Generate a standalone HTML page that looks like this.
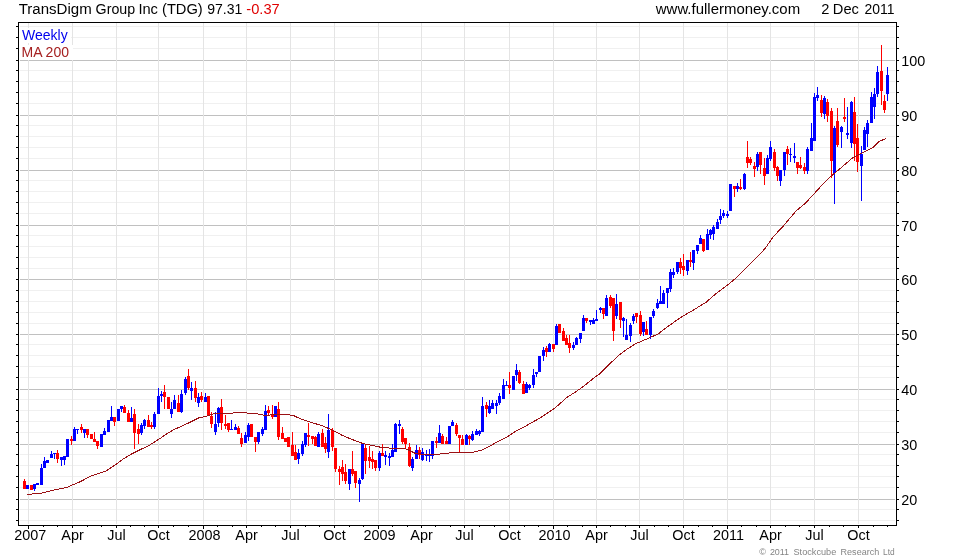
<!DOCTYPE html>
<html lang="en"><head><meta charset="utf-8"><title>TransDigm Group Inc (TDG) weekly chart</title>
<style>html,body{margin:0;padding:0;background:#fff}body{width:980px;height:560px;overflow:hidden}svg{display:block}text{font-family:"Liberation Sans",Arial,Helvetica,sans-serif}</style>
</head><body>
<svg width="980" height="560" viewBox="0 0 980 560">
<rect width="980" height="560" fill="#fff"/>
<g shape-rendering="crispEdges">
<rect x="20" y="520" width="875" height="1" fill="#f0f0f0"/>
<rect x="20" y="509" width="875" height="1" fill="#f0f0f0"/>
<rect x="20" y="487" width="875" height="1" fill="#f0f0f0"/>
<rect x="20" y="476" width="875" height="1" fill="#f0f0f0"/>
<rect x="20" y="465" width="875" height="1" fill="#f0f0f0"/>
<rect x="20" y="454" width="875" height="1" fill="#f0f0f0"/>
<rect x="20" y="432" width="875" height="1" fill="#f0f0f0"/>
<rect x="20" y="421" width="875" height="1" fill="#f0f0f0"/>
<rect x="20" y="410" width="875" height="1" fill="#f0f0f0"/>
<rect x="20" y="399" width="875" height="1" fill="#f0f0f0"/>
<rect x="20" y="377" width="875" height="1" fill="#f0f0f0"/>
<rect x="20" y="366" width="875" height="1" fill="#f0f0f0"/>
<rect x="20" y="355" width="875" height="1" fill="#f0f0f0"/>
<rect x="20" y="344" width="875" height="1" fill="#f0f0f0"/>
<rect x="20" y="323" width="875" height="1" fill="#f0f0f0"/>
<rect x="20" y="312" width="875" height="1" fill="#f0f0f0"/>
<rect x="20" y="301" width="875" height="1" fill="#f0f0f0"/>
<rect x="20" y="290" width="875" height="1" fill="#f0f0f0"/>
<rect x="20" y="268" width="875" height="1" fill="#f0f0f0"/>
<rect x="20" y="257" width="875" height="1" fill="#f0f0f0"/>
<rect x="20" y="246" width="875" height="1" fill="#f0f0f0"/>
<rect x="20" y="235" width="875" height="1" fill="#f0f0f0"/>
<rect x="20" y="213" width="875" height="1" fill="#f0f0f0"/>
<rect x="20" y="202" width="875" height="1" fill="#f0f0f0"/>
<rect x="20" y="191" width="875" height="1" fill="#f0f0f0"/>
<rect x="20" y="180" width="875" height="1" fill="#f0f0f0"/>
<rect x="20" y="158" width="875" height="1" fill="#f0f0f0"/>
<rect x="20" y="147" width="875" height="1" fill="#f0f0f0"/>
<rect x="20" y="136" width="875" height="1" fill="#f0f0f0"/>
<rect x="20" y="125" width="875" height="1" fill="#f0f0f0"/>
<rect x="20" y="103" width="875" height="1" fill="#f0f0f0"/>
<rect x="20" y="92" width="875" height="1" fill="#f0f0f0"/>
<rect x="20" y="81" width="875" height="1" fill="#f0f0f0"/>
<rect x="20" y="70" width="875" height="1" fill="#f0f0f0"/>
<rect x="20" y="48" width="875" height="1" fill="#f0f0f0"/>
<rect x="20" y="37" width="875" height="1" fill="#f0f0f0"/>
<rect x="20" y="26" width="875" height="1" fill="#f0f0f0"/>
<rect x="20" y="499" width="875" height="1" fill="#c0c0c0"/>
<rect x="20" y="444" width="875" height="1" fill="#c0c0c0"/>
<rect x="20" y="389" width="875" height="1" fill="#c0c0c0"/>
<rect x="20" y="334" width="875" height="1" fill="#c0c0c0"/>
<rect x="20" y="279" width="875" height="1" fill="#c0c0c0"/>
<rect x="20" y="225" width="875" height="1" fill="#c0c0c0"/>
<rect x="20" y="170" width="875" height="1" fill="#c0c0c0"/>
<rect x="20" y="115" width="875" height="1" fill="#c0c0c0"/>
<rect x="20" y="60" width="875" height="1" fill="#c0c0c0"/>
<rect x="28" y="23" width="1" height="501" fill="#e4e4e4"/>
<rect x="72" y="23" width="1" height="501" fill="#e4e4e4"/>
<rect x="116" y="23" width="1" height="501" fill="#e4e4e4"/>
<rect x="158" y="23" width="1" height="501" fill="#e4e4e4"/>
<rect x="203" y="23" width="1" height="501" fill="#e4e4e4"/>
<rect x="246" y="23" width="1" height="501" fill="#e4e4e4"/>
<rect x="290" y="23" width="1" height="501" fill="#e4e4e4"/>
<rect x="334" y="23" width="1" height="501" fill="#e4e4e4"/>
<rect x="378" y="23" width="1" height="501" fill="#e4e4e4"/>
<rect x="421" y="23" width="1" height="501" fill="#e4e4e4"/>
<rect x="464" y="23" width="1" height="501" fill="#e4e4e4"/>
<rect x="509" y="23" width="1" height="501" fill="#e4e4e4"/>
<rect x="553" y="23" width="1" height="501" fill="#e4e4e4"/>
<rect x="596" y="23" width="1" height="501" fill="#e4e4e4"/>
<rect x="639" y="23" width="1" height="501" fill="#e4e4e4"/>
<rect x="683" y="23" width="1" height="501" fill="#e4e4e4"/>
<rect x="727" y="23" width="1" height="501" fill="#e4e4e4"/>
<rect x="770" y="23" width="1" height="501" fill="#e4e4e4"/>
<rect x="814" y="23" width="1" height="501" fill="#e4e4e4"/>
<rect x="858" y="23" width="1" height="501" fill="#e4e4e4"/>
<rect x="20" y="28" width="51" height="15" fill="#fff"/><rect x="20" y="45" width="53" height="15" fill="#fff"/>
</g>
<g shape-rendering="crispEdges">
<rect x="24" y="479" width="1" height="10" fill="#ff0000"/><rect x="23" y="481" width="3" height="8" fill="#ff0000"/>
<rect x="27" y="485" width="1" height="4" fill="#0000ff"/><rect x="26" y="485" width="3" height="4" fill="#0000ff"/>
<rect x="31" y="485" width="1" height="5" fill="#ff0000"/><rect x="30" y="485" width="3" height="5" fill="#ff0000"/>
<rect x="34" y="484" width="1" height="7" fill="#0000ff"/><rect x="33" y="484" width="3" height="5" fill="#0000ff"/>
<rect x="37" y="483" width="1" height="2" fill="#0000ff"/><rect x="36" y="483" width="3" height="2" fill="#0000ff"/>
<rect x="41" y="464" width="1" height="21" fill="#0000ff"/><rect x="40" y="468" width="3" height="17" fill="#0000ff"/>
<rect x="44" y="457" width="1" height="11" fill="#0000ff"/><rect x="43" y="461" width="3" height="7" fill="#0000ff"/>
<rect x="47" y="460" width="1" height="3" fill="#0000ff"/><rect x="46" y="460" width="3" height="3" fill="#0000ff"/>
<rect x="51" y="451" width="1" height="7" fill="#0000ff"/><rect x="50" y="454" width="3" height="4" fill="#0000ff"/>
<rect x="54" y="453" width="1" height="6" fill="#0000ff"/><rect x="53" y="453" width="3" height="1" fill="#0000ff"/>
<rect x="57" y="450" width="1" height="13" fill="#ff0000"/><rect x="56" y="453" width="3" height="6" fill="#ff0000"/>
<rect x="61" y="457" width="1" height="9" fill="#0000ff"/><rect x="60" y="457" width="3" height="3" fill="#0000ff"/>
<rect x="64" y="456" width="1" height="9" fill="#0000ff"/><rect x="63" y="456" width="3" height="4" fill="#0000ff"/>
<rect x="67" y="439" width="1" height="18" fill="#0000ff"/><rect x="66" y="439" width="3" height="18" fill="#0000ff"/>
<rect x="71" y="436" width="1" height="9" fill="#ff0000"/><rect x="70" y="439" width="3" height="2" fill="#ff0000"/>
<rect x="74" y="427" width="1" height="14" fill="#0000ff"/><rect x="73" y="429" width="3" height="12" fill="#0000ff"/>
<rect x="77" y="429" width="1" height="5" fill="#0000ff"/><rect x="76" y="429" width="3" height="1" fill="#0000ff"/>
<rect x="81" y="424" width="1" height="9" fill="#ff0000"/><rect x="80" y="427" width="3" height="3" fill="#ff0000"/>
<rect x="84" y="429" width="1" height="9" fill="#0000ff"/><rect x="83" y="429" width="3" height="4" fill="#0000ff"/>
<rect x="87" y="429" width="1" height="9" fill="#ff0000"/><rect x="86" y="429" width="3" height="6" fill="#ff0000"/>
<rect x="91" y="434" width="1" height="5" fill="#ff0000"/><rect x="90" y="434" width="3" height="5" fill="#ff0000"/>
<rect x="94" y="432" width="1" height="10" fill="#ff0000"/><rect x="93" y="439" width="3" height="3" fill="#ff0000"/>
<rect x="97" y="441" width="1" height="8" fill="#ff0000"/><rect x="96" y="441" width="3" height="5" fill="#ff0000"/>
<rect x="101" y="434" width="1" height="13" fill="#0000ff"/><rect x="100" y="434" width="3" height="13" fill="#0000ff"/>
<rect x="104" y="428" width="1" height="7" fill="#0000ff"/><rect x="103" y="431" width="3" height="4" fill="#0000ff"/>
<rect x="108" y="420" width="1" height="12" fill="#0000ff"/><rect x="107" y="420" width="3" height="12" fill="#0000ff"/>
<rect x="111" y="406" width="1" height="15" fill="#0000ff"/><rect x="110" y="417" width="3" height="4" fill="#0000ff"/>
<rect x="114" y="417" width="1" height="9" fill="#ff0000"/><rect x="113" y="417" width="3" height="5" fill="#ff0000"/>
<rect x="118" y="409" width="1" height="12" fill="#0000ff"/><rect x="117" y="409" width="3" height="12" fill="#0000ff"/>
<rect x="121" y="406" width="1" height="6" fill="#0000ff"/><rect x="120" y="406" width="3" height="3" fill="#0000ff"/>
<rect x="124" y="405" width="1" height="8" fill="#ff0000"/><rect x="123" y="407" width="3" height="6" fill="#ff0000"/>
<rect x="128" y="410" width="1" height="12" fill="#ff0000"/><rect x="127" y="413" width="3" height="9" fill="#ff0000"/>
<rect x="131" y="407" width="1" height="15" fill="#0000ff"/><rect x="130" y="418" width="3" height="4" fill="#0000ff"/>
<rect x="134" y="409" width="1" height="40" fill="#ff0000"/><rect x="133" y="414" width="3" height="19" fill="#ff0000"/>
<rect x="138" y="424" width="1" height="20" fill="#ff0000"/><rect x="137" y="429" width="3" height="5" fill="#ff0000"/>
<rect x="141" y="423" width="1" height="12" fill="#0000ff"/><rect x="140" y="425" width="3" height="8" fill="#0000ff"/>
<rect x="144" y="419" width="1" height="10" fill="#0000ff"/><rect x="143" y="420" width="3" height="6" fill="#0000ff"/>
<rect x="148" y="415" width="1" height="12" fill="#ff0000"/><rect x="147" y="420" width="3" height="7" fill="#ff0000"/>
<rect x="151" y="422" width="1" height="7" fill="#ff0000"/><rect x="150" y="425" width="3" height="2" fill="#ff0000"/>
<rect x="154" y="412" width="1" height="17" fill="#0000ff"/><rect x="153" y="414" width="3" height="13" fill="#0000ff"/>
<rect x="158" y="388" width="1" height="26" fill="#0000ff"/><rect x="157" y="396" width="3" height="18" fill="#0000ff"/>
<rect x="161" y="391" width="1" height="11" fill="#0000ff"/><rect x="160" y="394" width="3" height="2" fill="#0000ff"/>
<rect x="164" y="385" width="1" height="24" fill="#ff0000"/><rect x="163" y="392" width="3" height="5" fill="#ff0000"/>
<rect x="168" y="397" width="1" height="12" fill="#ff0000"/><rect x="167" y="397" width="3" height="12" fill="#ff0000"/>
<rect x="171" y="402" width="1" height="16" fill="#0000ff"/><rect x="170" y="409" width="3" height="5" fill="#0000ff"/>
<rect x="174" y="395" width="1" height="14" fill="#0000ff"/><rect x="173" y="400" width="3" height="9" fill="#0000ff"/>
<rect x="178" y="395" width="1" height="17" fill="#ff0000"/><rect x="177" y="403" width="3" height="9" fill="#ff0000"/>
<rect x="181" y="390" width="1" height="23" fill="#0000ff"/><rect x="180" y="394" width="3" height="18" fill="#0000ff"/>
<rect x="185" y="377" width="1" height="18" fill="#0000ff"/><rect x="184" y="379" width="3" height="14" fill="#0000ff"/>
<rect x="188" y="369" width="1" height="21" fill="#ff0000"/><rect x="187" y="376" width="3" height="12" fill="#ff0000"/>
<rect x="191" y="382" width="1" height="18" fill="#0000ff"/><rect x="190" y="388" width="3" height="3" fill="#0000ff"/>
<rect x="195" y="381" width="1" height="21" fill="#ff0000"/><rect x="194" y="388" width="3" height="10" fill="#ff0000"/>
<rect x="198" y="393" width="1" height="14" fill="#0000ff"/><rect x="197" y="397" width="3" height="6" fill="#0000ff"/>
<rect x="201" y="392" width="1" height="10" fill="#ff0000"/><rect x="200" y="396" width="3" height="4" fill="#ff0000"/>
<rect x="205" y="393" width="1" height="9" fill="#0000ff"/><rect x="204" y="397" width="3" height="5" fill="#0000ff"/>
<rect x="208" y="396" width="1" height="19" fill="#ff0000"/><rect x="207" y="396" width="3" height="19" fill="#ff0000"/>
<rect x="211" y="412" width="1" height="16" fill="#ff0000"/><rect x="210" y="416" width="3" height="8" fill="#ff0000"/>
<rect x="215" y="412" width="1" height="23" fill="#0000ff"/><rect x="214" y="424" width="3" height="8" fill="#0000ff"/>
<rect x="218" y="407" width="1" height="20" fill="#0000ff"/><rect x="217" y="408" width="3" height="15" fill="#0000ff"/>
<rect x="221" y="399" width="1" height="31" fill="#ff0000"/><rect x="220" y="407" width="3" height="16" fill="#ff0000"/>
<rect x="225" y="415" width="1" height="14" fill="#ff0000"/><rect x="224" y="424" width="3" height="2" fill="#ff0000"/>
<rect x="228" y="423" width="1" height="9" fill="#ff0000"/><rect x="227" y="423" width="3" height="7" fill="#ff0000"/>
<rect x="231" y="420" width="1" height="10" fill="#0000ff"/><rect x="230" y="429" width="3" height="1" fill="#0000ff"/>
<rect x="235" y="424" width="1" height="6" fill="#0000ff"/><rect x="234" y="427" width="3" height="3" fill="#0000ff"/>
<rect x="238" y="426" width="1" height="8" fill="#ff0000"/><rect x="237" y="428" width="3" height="6" fill="#ff0000"/>
<rect x="241" y="433" width="1" height="14" fill="#ff0000"/><rect x="240" y="438" width="3" height="6" fill="#ff0000"/>
<rect x="245" y="432" width="1" height="11" fill="#0000ff"/><rect x="244" y="435" width="3" height="8" fill="#0000ff"/>
<rect x="248" y="423" width="1" height="18" fill="#0000ff"/><rect x="247" y="425" width="3" height="12" fill="#0000ff"/>
<rect x="251" y="424" width="1" height="13" fill="#ff0000"/><rect x="250" y="424" width="3" height="13" fill="#ff0000"/>
<rect x="255" y="437" width="1" height="15" fill="#ff0000"/><rect x="254" y="437" width="3" height="5" fill="#ff0000"/>
<rect x="258" y="432" width="1" height="12" fill="#0000ff"/><rect x="257" y="432" width="3" height="10" fill="#0000ff"/>
<rect x="262" y="427" width="1" height="9" fill="#0000ff"/><rect x="261" y="429" width="3" height="5" fill="#0000ff"/>
<rect x="265" y="405" width="1" height="25" fill="#0000ff"/><rect x="264" y="411" width="3" height="19" fill="#0000ff"/>
<rect x="268" y="406" width="1" height="10" fill="#ff0000"/><rect x="267" y="410" width="3" height="3" fill="#ff0000"/>
<rect x="272" y="405" width="1" height="14" fill="#ff0000"/><rect x="271" y="414" width="3" height="3" fill="#ff0000"/>
<rect x="275" y="406" width="1" height="11" fill="#0000ff"/><rect x="274" y="406" width="3" height="11" fill="#0000ff"/>
<rect x="278" y="402" width="1" height="38" fill="#ff0000"/><rect x="277" y="409" width="3" height="28" fill="#ff0000"/>
<rect x="282" y="427" width="1" height="12" fill="#ff0000"/><rect x="281" y="433" width="3" height="6" fill="#ff0000"/>
<rect x="285" y="438" width="1" height="4" fill="#ff0000"/><rect x="284" y="438" width="3" height="4" fill="#ff0000"/>
<rect x="288" y="437" width="1" height="10" fill="#ff0000"/><rect x="287" y="437" width="3" height="10" fill="#ff0000"/>
<rect x="292" y="432" width="1" height="24" fill="#ff0000"/><rect x="291" y="445" width="3" height="11" fill="#ff0000"/>
<rect x="295" y="445" width="1" height="15" fill="#ff0000"/><rect x="294" y="452" width="3" height="8" fill="#ff0000"/>
<rect x="298" y="449" width="1" height="15" fill="#0000ff"/><rect x="297" y="453" width="3" height="6" fill="#0000ff"/>
<rect x="302" y="441" width="1" height="15" fill="#0000ff"/><rect x="301" y="444" width="3" height="10" fill="#0000ff"/>
<rect x="305" y="433" width="1" height="14" fill="#0000ff"/><rect x="304" y="433" width="3" height="12" fill="#0000ff"/>
<rect x="308" y="423" width="1" height="23" fill="#ff0000"/><rect x="307" y="435" width="3" height="2" fill="#ff0000"/>
<rect x="312" y="436" width="1" height="8" fill="#ff0000"/><rect x="311" y="436" width="3" height="3" fill="#ff0000"/>
<rect x="315" y="436" width="1" height="10" fill="#ff0000"/><rect x="314" y="437" width="3" height="9" fill="#ff0000"/>
<rect x="318" y="432" width="1" height="15" fill="#0000ff"/><rect x="317" y="434" width="3" height="13" fill="#0000ff"/>
<rect x="322" y="429" width="1" height="18" fill="#ff0000"/><rect x="321" y="433" width="3" height="14" fill="#ff0000"/>
<rect x="325" y="437" width="1" height="16" fill="#ff0000"/><rect x="324" y="443" width="3" height="6" fill="#ff0000"/>
<rect x="328" y="414" width="1" height="44" fill="#0000ff"/><rect x="327" y="430" width="3" height="22" fill="#0000ff"/>
<rect x="332" y="428" width="1" height="23" fill="#ff0000"/><rect x="331" y="430" width="3" height="17" fill="#ff0000"/>
<rect x="335" y="448" width="1" height="24" fill="#ff0000"/><rect x="334" y="448" width="3" height="21" fill="#ff0000"/>
<rect x="339" y="466" width="1" height="19" fill="#ff0000"/><rect x="338" y="469" width="3" height="3" fill="#ff0000"/>
<rect x="342" y="460" width="1" height="21" fill="#ff0000"/><rect x="341" y="467" width="3" height="7" fill="#ff0000"/>
<rect x="345" y="464" width="1" height="20" fill="#ff0000"/><rect x="344" y="472" width="3" height="9" fill="#ff0000"/>
<rect x="349" y="469" width="1" height="21" fill="#0000ff"/><rect x="348" y="469" width="3" height="15" fill="#0000ff"/>
<rect x="352" y="451" width="1" height="25" fill="#ff0000"/><rect x="351" y="469" width="3" height="5" fill="#ff0000"/>
<rect x="355" y="471" width="1" height="17" fill="#ff0000"/><rect x="354" y="471" width="3" height="12" fill="#ff0000"/>
<rect x="359" y="478" width="1" height="24" fill="#0000ff"/><rect x="358" y="480" width="3" height="4" fill="#0000ff"/>
<rect x="362" y="444" width="1" height="36" fill="#0000ff"/><rect x="361" y="444" width="3" height="35" fill="#0000ff"/>
<rect x="365" y="444" width="1" height="30" fill="#ff0000"/><rect x="364" y="448" width="3" height="13" fill="#ff0000"/>
<rect x="369" y="446" width="1" height="22" fill="#ff0000"/><rect x="368" y="457" width="3" height="4" fill="#ff0000"/>
<rect x="372" y="451" width="1" height="18" fill="#ff0000"/><rect x="371" y="459" width="3" height="3" fill="#ff0000"/>
<rect x="375" y="460" width="1" height="11" fill="#ff0000"/><rect x="374" y="460" width="3" height="8" fill="#ff0000"/>
<rect x="379" y="451" width="1" height="20" fill="#0000ff"/><rect x="378" y="453" width="3" height="15" fill="#0000ff"/>
<rect x="382" y="444" width="1" height="12" fill="#ff0000"/><rect x="381" y="453" width="3" height="3" fill="#ff0000"/>
<rect x="385" y="451" width="1" height="14" fill="#0000ff"/><rect x="384" y="455" width="3" height="2" fill="#0000ff"/>
<rect x="389" y="453" width="1" height="13" fill="#0000ff"/><rect x="388" y="456" width="3" height="2" fill="#0000ff"/>
<rect x="392" y="444" width="1" height="13" fill="#0000ff"/><rect x="391" y="450" width="3" height="7" fill="#0000ff"/>
<rect x="395" y="423" width="1" height="29" fill="#0000ff"/><rect x="394" y="424" width="3" height="28" fill="#0000ff"/>
<rect x="399" y="420" width="1" height="14" fill="#0000ff"/><rect x="398" y="424" width="3" height="2" fill="#0000ff"/>
<rect x="402" y="427" width="1" height="17" fill="#ff0000"/><rect x="401" y="429" width="3" height="13" fill="#ff0000"/>
<rect x="405" y="438" width="1" height="11" fill="#ff0000"/><rect x="404" y="438" width="3" height="6" fill="#ff0000"/>
<rect x="409" y="443" width="1" height="24" fill="#ff0000"/><rect x="408" y="447" width="3" height="19" fill="#ff0000"/>
<rect x="412" y="457" width="1" height="14" fill="#0000ff"/><rect x="411" y="459" width="3" height="9" fill="#0000ff"/>
<rect x="416" y="445" width="1" height="14" fill="#0000ff"/><rect x="415" y="450" width="3" height="9" fill="#0000ff"/>
<rect x="419" y="447" width="1" height="12" fill="#ff0000"/><rect x="418" y="450" width="3" height="5" fill="#ff0000"/>
<rect x="422" y="448" width="1" height="13" fill="#0000ff"/><rect x="421" y="452" width="3" height="8" fill="#0000ff"/>
<rect x="426" y="450" width="1" height="11" fill="#0000ff"/><rect x="425" y="454" width="3" height="2" fill="#0000ff"/>
<rect x="429" y="449" width="1" height="13" fill="#0000ff"/><rect x="428" y="454" width="3" height="2" fill="#0000ff"/>
<rect x="432" y="441" width="1" height="18" fill="#0000ff"/><rect x="431" y="441" width="3" height="15" fill="#0000ff"/>
<rect x="436" y="437" width="1" height="11" fill="#ff0000"/><rect x="435" y="441" width="3" height="2" fill="#ff0000"/>
<rect x="439" y="425" width="1" height="18" fill="#0000ff"/><rect x="438" y="433" width="3" height="10" fill="#0000ff"/>
<rect x="442" y="434" width="1" height="10" fill="#ff0000"/><rect x="441" y="436" width="3" height="8" fill="#ff0000"/>
<rect x="446" y="437" width="1" height="7" fill="#ff0000"/><rect x="445" y="441" width="3" height="3" fill="#ff0000"/>
<rect x="449" y="426" width="1" height="18" fill="#0000ff"/><rect x="448" y="426" width="3" height="18" fill="#0000ff"/>
<rect x="452" y="420" width="1" height="6" fill="#0000ff"/><rect x="451" y="422" width="3" height="4" fill="#0000ff"/>
<rect x="456" y="423" width="1" height="13" fill="#ff0000"/><rect x="455" y="425" width="3" height="9" fill="#ff0000"/>
<rect x="459" y="435" width="1" height="17" fill="#ff0000"/><rect x="458" y="435" width="3" height="3" fill="#ff0000"/>
<rect x="462" y="435" width="1" height="10" fill="#ff0000"/><rect x="461" y="439" width="3" height="6" fill="#ff0000"/>
<rect x="466" y="434" width="1" height="11" fill="#0000ff"/><rect x="465" y="435" width="3" height="10" fill="#0000ff"/>
<rect x="469" y="435" width="1" height="10" fill="#ff0000"/><rect x="468" y="436" width="3" height="3" fill="#ff0000"/>
<rect x="472" y="431" width="1" height="10" fill="#0000ff"/><rect x="471" y="434" width="3" height="6" fill="#0000ff"/>
<rect x="476" y="429" width="1" height="6" fill="#0000ff"/><rect x="475" y="431" width="3" height="4" fill="#0000ff"/>
<rect x="479" y="430" width="1" height="6" fill="#0000ff"/><rect x="478" y="431" width="3" height="3" fill="#0000ff"/>
<rect x="482" y="397" width="1" height="35" fill="#0000ff"/><rect x="481" y="406" width="3" height="26" fill="#0000ff"/>
<rect x="486" y="402" width="1" height="15" fill="#ff0000"/><rect x="485" y="405" width="3" height="4" fill="#ff0000"/>
<rect x="489" y="400" width="1" height="14" fill="#0000ff"/><rect x="488" y="406" width="3" height="7" fill="#0000ff"/>
<rect x="492" y="400" width="1" height="9" fill="#0000ff"/><rect x="491" y="403" width="3" height="6" fill="#0000ff"/>
<rect x="496" y="400" width="1" height="14" fill="#0000ff"/><rect x="495" y="403" width="3" height="3" fill="#0000ff"/>
<rect x="499" y="393" width="1" height="12" fill="#0000ff"/><rect x="498" y="396" width="3" height="7" fill="#0000ff"/>
<rect x="503" y="379" width="1" height="20" fill="#0000ff"/><rect x="502" y="385" width="3" height="14" fill="#0000ff"/>
<rect x="506" y="381" width="1" height="5" fill="#0000ff"/><rect x="505" y="385" width="3" height="1" fill="#0000ff"/>
<rect x="509" y="372" width="1" height="22" fill="#ff0000"/><rect x="508" y="385" width="3" height="3" fill="#ff0000"/>
<rect x="513" y="376" width="1" height="14" fill="#0000ff"/><rect x="512" y="376" width="3" height="14" fill="#0000ff"/>
<rect x="516" y="364" width="1" height="17" fill="#0000ff"/><rect x="515" y="370" width="3" height="5" fill="#0000ff"/>
<rect x="519" y="370" width="1" height="14" fill="#ff0000"/><rect x="518" y="372" width="3" height="11" fill="#ff0000"/>
<rect x="523" y="381" width="1" height="13" fill="#ff0000"/><rect x="522" y="384" width="3" height="10" fill="#ff0000"/>
<rect x="526" y="382" width="1" height="11" fill="#0000ff"/><rect x="525" y="384" width="3" height="9" fill="#0000ff"/>
<rect x="529" y="384" width="1" height="6" fill="#0000ff"/><rect x="528" y="385" width="3" height="3" fill="#0000ff"/>
<rect x="533" y="369" width="1" height="19" fill="#0000ff"/><rect x="532" y="375" width="3" height="10" fill="#0000ff"/>
<rect x="536" y="372" width="1" height="5" fill="#0000ff"/><rect x="535" y="372" width="3" height="2" fill="#0000ff"/>
<rect x="539" y="356" width="1" height="16" fill="#0000ff"/><rect x="538" y="356" width="3" height="16" fill="#0000ff"/>
<rect x="543" y="347" width="1" height="14" fill="#0000ff"/><rect x="542" y="350" width="3" height="6" fill="#0000ff"/>
<rect x="546" y="346" width="1" height="11" fill="#ff0000"/><rect x="545" y="348" width="3" height="4" fill="#ff0000"/>
<rect x="549" y="343" width="1" height="9" fill="#0000ff"/><rect x="548" y="344" width="3" height="8" fill="#0000ff"/>
<rect x="553" y="344" width="1" height="8" fill="#ff0000"/><rect x="552" y="344" width="3" height="5" fill="#ff0000"/>
<rect x="556" y="324" width="1" height="21" fill="#0000ff"/><rect x="555" y="326" width="3" height="19" fill="#0000ff"/>
<rect x="559" y="324" width="1" height="9" fill="#ff0000"/><rect x="558" y="324" width="3" height="9" fill="#ff0000"/>
<rect x="563" y="328" width="1" height="13" fill="#ff0000"/><rect x="562" y="331" width="3" height="10" fill="#ff0000"/>
<rect x="566" y="335" width="1" height="10" fill="#ff0000"/><rect x="565" y="338" width="3" height="7" fill="#ff0000"/>
<rect x="569" y="335" width="1" height="18" fill="#ff0000"/><rect x="568" y="343" width="3" height="5" fill="#ff0000"/>
<rect x="573" y="342" width="1" height="8" fill="#0000ff"/><rect x="572" y="345" width="3" height="3" fill="#0000ff"/>
<rect x="576" y="337" width="1" height="8" fill="#0000ff"/><rect x="575" y="338" width="3" height="7" fill="#0000ff"/>
<rect x="580" y="333" width="1" height="10" fill="#0000ff"/><rect x="579" y="333" width="3" height="6" fill="#0000ff"/>
<rect x="583" y="315" width="1" height="16" fill="#0000ff"/><rect x="582" y="318" width="3" height="13" fill="#0000ff"/>
<rect x="586" y="318" width="1" height="5" fill="#ff0000"/><rect x="585" y="318" width="3" height="3" fill="#ff0000"/>
<rect x="590" y="320" width="1" height="5" fill="#0000ff"/><rect x="589" y="320" width="3" height="2" fill="#0000ff"/>
<rect x="593" y="318" width="1" height="6" fill="#0000ff"/><rect x="592" y="320" width="3" height="4" fill="#0000ff"/>
<rect x="596" y="310" width="1" height="11" fill="#0000ff"/><rect x="595" y="319" width="3" height="2" fill="#0000ff"/>
<rect x="600" y="307" width="1" height="6" fill="#0000ff"/><rect x="599" y="308" width="3" height="2" fill="#0000ff"/>
<rect x="603" y="308" width="1" height="11" fill="#ff0000"/><rect x="602" y="308" width="3" height="6" fill="#ff0000"/>
<rect x="606" y="295" width="1" height="21" fill="#0000ff"/><rect x="605" y="298" width="3" height="18" fill="#0000ff"/>
<rect x="610" y="295" width="1" height="13" fill="#ff0000"/><rect x="609" y="297" width="3" height="9" fill="#ff0000"/>
<rect x="613" y="298" width="1" height="43" fill="#ff0000"/><rect x="612" y="298" width="3" height="33" fill="#ff0000"/>
<rect x="616" y="294" width="1" height="25" fill="#0000ff"/><rect x="615" y="304" width="3" height="12" fill="#0000ff"/>
<rect x="620" y="302" width="1" height="26" fill="#ff0000"/><rect x="619" y="302" width="3" height="18" fill="#ff0000"/>
<rect x="623" y="317" width="1" height="20" fill="#0000ff"/><rect x="622" y="318" width="3" height="3" fill="#0000ff"/>
<rect x="626" y="319" width="1" height="21" fill="#0000ff"/><rect x="625" y="335" width="3" height="5" fill="#0000ff"/>
<rect x="630" y="323" width="1" height="19" fill="#0000ff"/><rect x="629" y="325" width="3" height="11" fill="#0000ff"/>
<rect x="633" y="314" width="1" height="10" fill="#0000ff"/><rect x="632" y="316" width="3" height="5" fill="#0000ff"/>
<rect x="636" y="313" width="1" height="10" fill="#ff0000"/><rect x="635" y="313" width="3" height="4" fill="#ff0000"/>
<rect x="640" y="311" width="1" height="25" fill="#ff0000"/><rect x="639" y="315" width="3" height="19" fill="#ff0000"/>
<rect x="643" y="322" width="1" height="14" fill="#0000ff"/><rect x="642" y="322" width="3" height="10" fill="#0000ff"/>
<rect x="646" y="321" width="1" height="14" fill="#ff0000"/><rect x="645" y="329" width="3" height="6" fill="#ff0000"/>
<rect x="650" y="317" width="1" height="22" fill="#0000ff"/><rect x="649" y="317" width="3" height="18" fill="#0000ff"/>
<rect x="653" y="309" width="1" height="9" fill="#0000ff"/><rect x="652" y="311" width="3" height="5" fill="#0000ff"/>
<rect x="657" y="299" width="1" height="10" fill="#0000ff"/><rect x="656" y="303" width="3" height="5" fill="#0000ff"/>
<rect x="660" y="286" width="1" height="18" fill="#0000ff"/><rect x="659" y="301" width="3" height="3" fill="#0000ff"/>
<rect x="663" y="290" width="1" height="14" fill="#0000ff"/><rect x="662" y="293" width="3" height="11" fill="#0000ff"/>
<rect x="667" y="288" width="1" height="20" fill="#0000ff"/><rect x="666" y="288" width="3" height="5" fill="#0000ff"/>
<rect x="670" y="269" width="1" height="23" fill="#0000ff"/><rect x="669" y="272" width="3" height="17" fill="#0000ff"/>
<rect x="673" y="268" width="1" height="10" fill="#0000ff"/><rect x="672" y="272" width="3" height="3" fill="#0000ff"/>
<rect x="677" y="262" width="1" height="12" fill="#0000ff"/><rect x="676" y="262" width="3" height="10" fill="#0000ff"/>
<rect x="680" y="258" width="1" height="16" fill="#ff0000"/><rect x="679" y="262" width="3" height="6" fill="#ff0000"/>
<rect x="683" y="254" width="1" height="22" fill="#ff0000"/><rect x="682" y="266" width="3" height="4" fill="#ff0000"/>
<rect x="687" y="260" width="1" height="15" fill="#0000ff"/><rect x="686" y="260" width="3" height="11" fill="#0000ff"/>
<rect x="690" y="252" width="1" height="15" fill="#ff0000"/><rect x="689" y="260" width="3" height="2" fill="#ff0000"/>
<rect x="693" y="250" width="1" height="20" fill="#0000ff"/><rect x="692" y="250" width="3" height="13" fill="#0000ff"/>
<rect x="697" y="245" width="1" height="9" fill="#0000ff"/><rect x="696" y="245" width="3" height="6" fill="#0000ff"/>
<rect x="700" y="235" width="1" height="9" fill="#0000ff"/><rect x="699" y="238" width="3" height="6" fill="#0000ff"/>
<rect x="703" y="239" width="1" height="13" fill="#ff0000"/><rect x="702" y="239" width="3" height="12" fill="#ff0000"/>
<rect x="707" y="229" width="1" height="21" fill="#0000ff"/><rect x="706" y="234" width="3" height="16" fill="#0000ff"/>
<rect x="710" y="229" width="1" height="10" fill="#0000ff"/><rect x="709" y="230" width="3" height="5" fill="#0000ff"/>
<rect x="713" y="225" width="1" height="15" fill="#0000ff"/><rect x="712" y="227" width="3" height="7" fill="#0000ff"/>
<rect x="717" y="219" width="1" height="10" fill="#0000ff"/><rect x="716" y="222" width="3" height="7" fill="#0000ff"/>
<rect x="720" y="209" width="1" height="15" fill="#0000ff"/><rect x="719" y="216" width="3" height="4" fill="#0000ff"/>
<rect x="723" y="210" width="1" height="8" fill="#0000ff"/><rect x="722" y="213" width="3" height="3" fill="#0000ff"/>
<rect x="727" y="211" width="1" height="7" fill="#0000ff"/><rect x="726" y="214" width="3" height="2" fill="#0000ff"/>
<rect x="730" y="184" width="1" height="27" fill="#0000ff"/><rect x="729" y="184" width="3" height="27" fill="#0000ff"/>
<rect x="734" y="186" width="1" height="11" fill="#ff0000"/><rect x="733" y="186" width="3" height="3" fill="#ff0000"/>
<rect x="737" y="183" width="1" height="9" fill="#0000ff"/><rect x="736" y="186" width="3" height="3" fill="#0000ff"/>
<rect x="740" y="179" width="1" height="11" fill="#ff0000"/><rect x="739" y="187" width="3" height="2" fill="#ff0000"/>
<rect x="744" y="173" width="1" height="17" fill="#0000ff"/><rect x="743" y="174" width="3" height="15" fill="#0000ff"/>
<rect x="747" y="141" width="1" height="27" fill="#ff0000"/><rect x="746" y="157" width="3" height="6" fill="#ff0000"/>
<rect x="750" y="157" width="1" height="8" fill="#ff0000"/><rect x="749" y="159" width="3" height="4" fill="#ff0000"/>
<rect x="754" y="162" width="1" height="15" fill="#ff0000"/><rect x="753" y="166" width="3" height="3" fill="#ff0000"/>
<rect x="757" y="152" width="1" height="19" fill="#0000ff"/><rect x="756" y="154" width="3" height="13" fill="#0000ff"/>
<rect x="760" y="152" width="1" height="22" fill="#ff0000"/><rect x="759" y="152" width="3" height="13" fill="#ff0000"/>
<rect x="764" y="158" width="1" height="27" fill="#ff0000"/><rect x="763" y="168" width="3" height="8" fill="#ff0000"/>
<rect x="767" y="155" width="1" height="19" fill="#0000ff"/><rect x="766" y="158" width="3" height="16" fill="#0000ff"/>
<rect x="770" y="141" width="1" height="20" fill="#0000ff"/><rect x="769" y="147" width="3" height="12" fill="#0000ff"/>
<rect x="774" y="149" width="1" height="22" fill="#ff0000"/><rect x="773" y="152" width="3" height="16" fill="#ff0000"/>
<rect x="777" y="166" width="1" height="15" fill="#ff0000"/><rect x="776" y="167" width="3" height="9" fill="#ff0000"/>
<rect x="780" y="170" width="1" height="16" fill="#0000ff"/><rect x="779" y="170" width="3" height="11" fill="#0000ff"/>
<rect x="784" y="152" width="1" height="24" fill="#0000ff"/><rect x="783" y="152" width="3" height="18" fill="#0000ff"/>
<rect x="787" y="146" width="1" height="19" fill="#ff0000"/><rect x="786" y="149" width="3" height="5" fill="#ff0000"/>
<rect x="790" y="148" width="1" height="14" fill="#0000ff"/><rect x="789" y="154" width="3" height="1" fill="#0000ff"/>
<rect x="794" y="143" width="1" height="20" fill="#0000ff"/><rect x="793" y="156" width="3" height="2" fill="#0000ff"/>
<rect x="797" y="162" width="1" height="12" fill="#ff0000"/><rect x="796" y="162" width="3" height="6" fill="#ff0000"/>
<rect x="800" y="157" width="1" height="12" fill="#ff0000"/><rect x="799" y="165" width="3" height="3" fill="#ff0000"/>
<rect x="804" y="163" width="1" height="11" fill="#ff0000"/><rect x="803" y="167" width="3" height="4" fill="#ff0000"/>
<rect x="807" y="147" width="1" height="27" fill="#0000ff"/><rect x="806" y="149" width="3" height="22" fill="#0000ff"/>
<rect x="811" y="123" width="1" height="28" fill="#0000ff"/><rect x="810" y="138" width="3" height="13" fill="#0000ff"/>
<rect x="814" y="93" width="1" height="48" fill="#0000ff"/><rect x="813" y="97" width="3" height="44" fill="#0000ff"/>
<rect x="817" y="87" width="1" height="14" fill="#0000ff"/><rect x="816" y="95" width="3" height="3" fill="#0000ff"/>
<rect x="821" y="95" width="1" height="22" fill="#ff0000"/><rect x="820" y="100" width="3" height="13" fill="#ff0000"/>
<rect x="824" y="96" width="1" height="23" fill="#0000ff"/><rect x="823" y="98" width="3" height="16" fill="#0000ff"/>
<rect x="827" y="99" width="1" height="23" fill="#ff0000"/><rect x="826" y="102" width="3" height="14" fill="#ff0000"/>
<rect x="831" y="108" width="1" height="70" fill="#ff0000"/><rect x="830" y="111" width="3" height="50" fill="#ff0000"/>
<rect x="834" y="126" width="1" height="78" fill="#0000ff"/><rect x="833" y="128" width="3" height="45" fill="#0000ff"/>
<rect x="837" y="108" width="1" height="39" fill="#ff0000"/><rect x="836" y="121" width="3" height="24" fill="#ff0000"/>
<rect x="841" y="126" width="1" height="22" fill="#0000ff"/><rect x="840" y="127" width="3" height="5" fill="#0000ff"/>
<rect x="844" y="98" width="1" height="24" fill="#ff0000"/><rect x="843" y="117" width="3" height="2" fill="#ff0000"/>
<rect x="847" y="107" width="1" height="32" fill="#0000ff"/><rect x="846" y="133" width="3" height="2" fill="#0000ff"/>
<rect x="851" y="101" width="1" height="47" fill="#0000ff"/><rect x="850" y="102" width="3" height="41" fill="#0000ff"/>
<rect x="854" y="97" width="1" height="64" fill="#ff0000"/><rect x="853" y="112" width="3" height="32" fill="#ff0000"/>
<rect x="857" y="124" width="1" height="48" fill="#ff0000"/><rect x="856" y="138" width="3" height="24" fill="#ff0000"/>
<rect x="861" y="146" width="1" height="55" fill="#0000ff"/><rect x="860" y="154" width="3" height="12" fill="#0000ff"/>
<rect x="864" y="127" width="1" height="23" fill="#0000ff"/><rect x="863" y="130" width="3" height="20" fill="#0000ff"/>
<rect x="867" y="120" width="1" height="27" fill="#0000ff"/><rect x="866" y="123" width="3" height="11" fill="#0000ff"/>
<rect x="871" y="92" width="1" height="31" fill="#0000ff"/><rect x="870" y="97" width="3" height="26" fill="#0000ff"/>
<rect x="874" y="88" width="1" height="31" fill="#0000ff"/><rect x="873" y="94" width="3" height="13" fill="#0000ff"/>
<rect x="877" y="66" width="1" height="31" fill="#0000ff"/><rect x="876" y="72" width="3" height="22" fill="#0000ff"/>
<rect x="881" y="45" width="1" height="60" fill="#ff0000"/><rect x="880" y="71" width="3" height="20" fill="#ff0000"/>
<rect x="884" y="95" width="1" height="18" fill="#ff0000"/><rect x="883" y="101" width="3" height="9" fill="#ff0000"/>
<rect x="887" y="67" width="1" height="34" fill="#0000ff"/><rect x="886" y="75" width="3" height="19" fill="#0000ff"/>
</g>
<polyline points="27.3,494.3 39.4,493.6 53.7,490.0 66.6,487.6 72.3,485.0 80.9,481.4 89.4,476.7 98.0,473.6 106.6,470.7 115.1,465.0 123.7,458.6 132.3,453.6 140.9,449.3 149.0,445.5 158.6,439.4 167.1,433.7 174.3,429.4 181.4,426.3 190.0,422.3 198.6,418.0 207.1,415.9 212.9,414.0 224.3,413.7 232.9,413.0 241.4,412.6 248.6,413.1 257.1,413.9 264.3,415.3 282.9,414.3 292.9,415.3 300.0,418.6 311.4,422.4 322.9,426.0 332.9,430.3 342.9,435.7 354.3,440.3 362.9,443.5 371.4,445.3 380.0,447.1 391.4,448.3 404.3,448.4 408.6,450.0 415.7,453.6 427.1,454.5 437.1,454.3 448.6,453.0 457.1,452.4 473.6,452.1 482.1,450.0 490.7,445.7 499.3,440.7 507.9,436.4 516.4,430.7 525.0,426.4 540.0,418.0 555.0,408.0 567.1,397.3 575.0,392.3 583.6,386.3 592.1,379.4 600.7,373.0 609.3,364.4 617.9,355.9 626.4,349.6 635.0,344.0 646.4,339.1 657.9,334.1 666.4,327.7 675.0,321.3 683.6,315.6 695.0,309.1 706.4,302.0 715.0,294.5 723.6,287.9 732.1,281.4 740.7,273.6 749.3,265.0 757.9,256.4 765.0,248.6 773.6,236.4 783.6,225.7 790.5,217.5 796.4,210.7 805.0,203.6 813.6,194.3 822.1,185.0 829.3,177.5 836.4,171.8 845.0,164.3 853.6,157.1 865.0,151.4 873.6,147.1 879.3,141.4 886.4,138.3" fill="none" stroke="#9a1014" stroke-width="1" shape-rendering="crispEdges"/>
<g shape-rendering="crispEdges" fill="#000">
<rect x="18" y="22" width="879" height="1"/>
<rect x="18" y="525" width="879" height="1"/>
<rect x="18" y="22" width="1" height="504"/>
<rect x="896" y="22" width="1" height="504"/>
<rect x="16" y="520" width="2" height="1"/><rect x="897" y="520" width="2" height="1"/>
<rect x="16" y="509" width="2" height="1"/><rect x="897" y="509" width="2" height="1"/>
<rect x="16" y="499" width="2" height="1"/><rect x="897" y="499" width="2" height="1"/>
<rect x="16" y="487" width="2" height="1"/><rect x="897" y="487" width="2" height="1"/>
<rect x="16" y="476" width="2" height="1"/><rect x="897" y="476" width="2" height="1"/>
<rect x="16" y="465" width="2" height="1"/><rect x="897" y="465" width="2" height="1"/>
<rect x="16" y="454" width="2" height="1"/><rect x="897" y="454" width="2" height="1"/>
<rect x="16" y="444" width="2" height="1"/><rect x="897" y="444" width="2" height="1"/>
<rect x="16" y="432" width="2" height="1"/><rect x="897" y="432" width="2" height="1"/>
<rect x="16" y="421" width="2" height="1"/><rect x="897" y="421" width="2" height="1"/>
<rect x="16" y="410" width="2" height="1"/><rect x="897" y="410" width="2" height="1"/>
<rect x="16" y="399" width="2" height="1"/><rect x="897" y="399" width="2" height="1"/>
<rect x="16" y="389" width="2" height="1"/><rect x="897" y="389" width="2" height="1"/>
<rect x="16" y="377" width="2" height="1"/><rect x="897" y="377" width="2" height="1"/>
<rect x="16" y="366" width="2" height="1"/><rect x="897" y="366" width="2" height="1"/>
<rect x="16" y="355" width="2" height="1"/><rect x="897" y="355" width="2" height="1"/>
<rect x="16" y="344" width="2" height="1"/><rect x="897" y="344" width="2" height="1"/>
<rect x="16" y="334" width="2" height="1"/><rect x="897" y="334" width="2" height="1"/>
<rect x="16" y="323" width="2" height="1"/><rect x="897" y="323" width="2" height="1"/>
<rect x="16" y="312" width="2" height="1"/><rect x="897" y="312" width="2" height="1"/>
<rect x="16" y="301" width="2" height="1"/><rect x="897" y="301" width="2" height="1"/>
<rect x="16" y="290" width="2" height="1"/><rect x="897" y="290" width="2" height="1"/>
<rect x="16" y="279" width="2" height="1"/><rect x="897" y="279" width="2" height="1"/>
<rect x="16" y="268" width="2" height="1"/><rect x="897" y="268" width="2" height="1"/>
<rect x="16" y="257" width="2" height="1"/><rect x="897" y="257" width="2" height="1"/>
<rect x="16" y="246" width="2" height="1"/><rect x="897" y="246" width="2" height="1"/>
<rect x="16" y="235" width="2" height="1"/><rect x="897" y="235" width="2" height="1"/>
<rect x="16" y="225" width="2" height="1"/><rect x="897" y="225" width="2" height="1"/>
<rect x="16" y="213" width="2" height="1"/><rect x="897" y="213" width="2" height="1"/>
<rect x="16" y="202" width="2" height="1"/><rect x="897" y="202" width="2" height="1"/>
<rect x="16" y="191" width="2" height="1"/><rect x="897" y="191" width="2" height="1"/>
<rect x="16" y="180" width="2" height="1"/><rect x="897" y="180" width="2" height="1"/>
<rect x="16" y="170" width="2" height="1"/><rect x="897" y="170" width="2" height="1"/>
<rect x="16" y="158" width="2" height="1"/><rect x="897" y="158" width="2" height="1"/>
<rect x="16" y="147" width="2" height="1"/><rect x="897" y="147" width="2" height="1"/>
<rect x="16" y="136" width="2" height="1"/><rect x="897" y="136" width="2" height="1"/>
<rect x="16" y="125" width="2" height="1"/><rect x="897" y="125" width="2" height="1"/>
<rect x="16" y="115" width="2" height="1"/><rect x="897" y="115" width="2" height="1"/>
<rect x="16" y="103" width="2" height="1"/><rect x="897" y="103" width="2" height="1"/>
<rect x="16" y="92" width="2" height="1"/><rect x="897" y="92" width="2" height="1"/>
<rect x="16" y="81" width="2" height="1"/><rect x="897" y="81" width="2" height="1"/>
<rect x="16" y="70" width="2" height="1"/><rect x="897" y="70" width="2" height="1"/>
<rect x="16" y="60" width="2" height="1"/><rect x="897" y="60" width="2" height="1"/>
<rect x="16" y="48" width="2" height="1"/><rect x="897" y="48" width="2" height="1"/>
<rect x="16" y="37" width="2" height="1"/><rect x="897" y="37" width="2" height="1"/>
<rect x="16" y="26" width="2" height="1"/><rect x="897" y="26" width="2" height="1"/>
<rect x="28" y="526" width="1" height="3"/>
<rect x="43" y="526" width="1" height="1"/>
<rect x="57" y="526" width="1" height="1"/>
<rect x="72" y="526" width="1" height="2"/>
<rect x="87" y="526" width="1" height="1"/>
<rect x="101" y="526" width="1" height="1"/>
<rect x="116" y="526" width="1" height="2"/>
<rect x="130" y="526" width="1" height="1"/>
<rect x="144" y="526" width="1" height="1"/>
<rect x="158" y="526" width="1" height="2"/>
<rect x="173" y="526" width="1" height="1"/>
<rect x="188" y="526" width="1" height="1"/>
<rect x="203" y="526" width="1" height="3"/>
<rect x="217" y="526" width="1" height="1"/>
<rect x="232" y="526" width="1" height="1"/>
<rect x="246" y="526" width="1" height="2"/>
<rect x="261" y="526" width="1" height="1"/>
<rect x="275" y="526" width="1" height="1"/>
<rect x="290" y="526" width="1" height="2"/>
<rect x="305" y="526" width="1" height="1"/>
<rect x="319" y="526" width="1" height="1"/>
<rect x="334" y="526" width="1" height="2"/>
<rect x="349" y="526" width="1" height="1"/>
<rect x="363" y="526" width="1" height="1"/>
<rect x="378" y="526" width="1" height="3"/>
<rect x="392" y="526" width="1" height="1"/>
<rect x="407" y="526" width="1" height="1"/>
<rect x="421" y="526" width="1" height="2"/>
<rect x="435" y="526" width="1" height="1"/>
<rect x="450" y="526" width="1" height="1"/>
<rect x="464" y="526" width="1" height="2"/>
<rect x="479" y="526" width="1" height="1"/>
<rect x="494" y="526" width="1" height="1"/>
<rect x="509" y="526" width="1" height="2"/>
<rect x="524" y="526" width="1" height="1"/>
<rect x="538" y="526" width="1" height="1"/>
<rect x="553" y="526" width="1" height="3"/>
<rect x="567" y="526" width="1" height="1"/>
<rect x="582" y="526" width="1" height="1"/>
<rect x="596" y="526" width="1" height="2"/>
<rect x="610" y="526" width="1" height="1"/>
<rect x="625" y="526" width="1" height="1"/>
<rect x="639" y="526" width="1" height="2"/>
<rect x="654" y="526" width="1" height="1"/>
<rect x="668" y="526" width="1" height="1"/>
<rect x="683" y="526" width="1" height="2"/>
<rect x="698" y="526" width="1" height="1"/>
<rect x="712" y="526" width="1" height="1"/>
<rect x="727" y="526" width="1" height="3"/>
<rect x="741" y="526" width="1" height="1"/>
<rect x="756" y="526" width="1" height="1"/>
<rect x="770" y="526" width="1" height="2"/>
<rect x="785" y="526" width="1" height="1"/>
<rect x="799" y="526" width="1" height="1"/>
<rect x="814" y="526" width="1" height="2"/>
<rect x="829" y="526" width="1" height="1"/>
<rect x="843" y="526" width="1" height="1"/>
<rect x="858" y="526" width="1" height="2"/>
<rect x="873" y="526" width="1" height="1"/>
<rect x="887" y="526" width="1" height="1"/>
</g>
<text y="14" font-size="14.67" fill="#000"><tspan x="18.7" textLength="73" lengthAdjust="spacingAndGlyphs">TransDigm</tspan> <tspan x="95.6" textLength="39.5" lengthAdjust="spacingAndGlyphs">Group</tspan> <tspan x="138.4">Inc</tspan> <tspan x="162">(TDG)</tspan> <tspan x="207.2" textLength="35.2" lengthAdjust="spacingAndGlyphs">97.31</tspan> <tspan x="246.3" fill="#e00000">-0.37</tspan></text>
<text x="655.8" y="14" font-size="14.67" fill="#000" textLength="144.3" lengthAdjust="spacingAndGlyphs">www.fullermoney.com</text>
<text y="14" font-size="14.67" fill="#000"><tspan x="821.3">2</tspan> <tspan x="832.8">Dec</tspan> <tspan x="864.6" textLength="30" lengthAdjust="spacingAndGlyphs">2011</tspan></text>
<text x="22" y="40" font-size="14" fill="#0000ee">Weekly</text>
<text x="21.5" y="57" font-size="14" fill="#a52020">MA 200</text>
<text x="901.2" y="505" font-size="14.4" fill="#000">20</text>
<text x="901.2" y="450" font-size="14.4" fill="#000">30</text>
<text x="901.2" y="395" font-size="14.4" fill="#000">40</text>
<text x="901.2" y="340" font-size="14.4" fill="#000">50</text>
<text x="901.2" y="285" font-size="14.4" fill="#000">60</text>
<text x="901.2" y="231" font-size="14.4" fill="#000">70</text>
<text x="901.2" y="176" font-size="14.4" fill="#000">80</text>
<text x="901.2" y="121" font-size="14.4" fill="#000">90</text>
<text x="901.2" y="66" font-size="14.4" fill="#000">100</text>
<text x="30.3" y="540" font-size="14.4" fill="#000" text-anchor="middle">2007</text>
<text x="72.5" y="540" font-size="14.4" fill="#000" text-anchor="middle">Apr</text>
<text x="116.5" y="540" font-size="14.4" fill="#000" text-anchor="middle">Jul</text>
<text x="158.5" y="540" font-size="14.4" fill="#000" text-anchor="middle">Oct</text>
<text x="204.5" y="540" font-size="14.4" fill="#000" text-anchor="middle">2008</text>
<text x="246.5" y="540" font-size="14.4" fill="#000" text-anchor="middle">Apr</text>
<text x="290.5" y="540" font-size="14.4" fill="#000" text-anchor="middle">Jul</text>
<text x="334.5" y="540" font-size="14.4" fill="#000" text-anchor="middle">Oct</text>
<text x="379.5" y="540" font-size="14.4" fill="#000" text-anchor="middle">2009</text>
<text x="421.5" y="540" font-size="14.4" fill="#000" text-anchor="middle">Apr</text>
<text x="464.5" y="540" font-size="14.4" fill="#000" text-anchor="middle">Jul</text>
<text x="509.5" y="540" font-size="14.4" fill="#000" text-anchor="middle">Oct</text>
<text x="554.5" y="540" font-size="14.4" fill="#000" text-anchor="middle">2010</text>
<text x="596.5" y="540" font-size="14.4" fill="#000" text-anchor="middle">Apr</text>
<text x="639.5" y="540" font-size="14.4" fill="#000" text-anchor="middle">Jul</text>
<text x="683.5" y="540" font-size="14.4" fill="#000" text-anchor="middle">Oct</text>
<text x="728.5" y="540" font-size="14.4" fill="#000" text-anchor="middle">2011</text>
<text x="770.5" y="540" font-size="14.4" fill="#000" text-anchor="middle">Apr</text>
<text x="814.5" y="540" font-size="14.4" fill="#000" text-anchor="middle">Jul</text>
<text x="858.5" y="540" font-size="14.4" fill="#000" text-anchor="middle">Oct</text>
<text y="555" font-size="9.2" fill="#848484"><tspan x="759.3">©</tspan> <tspan x="769.9" textLength="19.2" lengthAdjust="spacingAndGlyphs">2011</tspan> <tspan x="793.5" textLength="42.8" lengthAdjust="spacingAndGlyphs">Stockcube</tspan> <tspan x="840.6" textLength="38.6" lengthAdjust="spacingAndGlyphs">Research</tspan> <tspan x="883.1" textLength="11.6" lengthAdjust="spacingAndGlyphs">Ltd</tspan></text>
</svg></body></html>
